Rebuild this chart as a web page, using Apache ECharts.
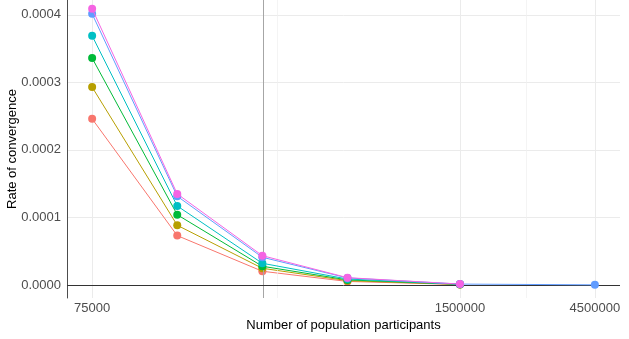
<!DOCTYPE html>
<html>
<head>
<meta charset="utf-8">
<script src="https://cdn.jsdelivr.net/npm/echarts@6/dist/echarts.min.js"></script>
<style>html,body{margin:0;padding:0;background:#fff}#c{width:629px;height:339px}</style>
</head>
<body>
<div id="c"></div>
<script>
// Population sizes (x, log scale)
const participants = [75000, 150000, 300000, 600000, 1500000, 4500000];
// Tick labels on x
const xTickValues = [75000, 1500000, 4500000];
// Tick labels on y
const yTickValues = [0, 0.0001, 0.0002, 0.0003, 0.0004];
const yMinorValues = [0.00005, 0.00015, 0.00025, 0.00035];
// Reference lines
const vlineValue = 300000;
const hlineValue = 0;

// Series values (rate of convergence)
const seriesRed     = [0.000246, 0.0000731, 0.0000203, 0.0000052, 0.0000007, null];
const seriesGold    = [0.000293, 0.0000884, 0.0000247, 0.0000064, 0.0000008, null];
const seriesGreen   = [0.000336, 0.000104,  0.0000277, 0.0000075, 0.0000010, null];
const seriesCyan    = [0.000369, 0.000117,  0.0000321, 0.0000088, 0.0000011, null];
const seriesBlue    = [0.0004015,0.0001314, 0.0000410, 0.0000104, 0.0000013, 0.0000002];
const seriesMagenta = [0.000409, 0.0001348, 0.0000434, 0.0000108, 0.0000014, null];

const colors = ['#F8766D', '#B79F00', '#00BA38', '#00BFC4', '#619CFF', '#F564E3'];
const allSeries = [seriesRed, seriesGold, seriesGreen, seriesCyan, seriesBlue, seriesMagenta];

const lg = v => Math.log10(v);
const xMinorValues = [];
for (let i = 0; i < xTickValues.length - 1; i++) {
  xMinorValues.push(Math.sqrt(xTickValues[i] * xTickValues[i + 1]));
}
const lgMin = lg(participants[0]), lgMax = lg(participants[participants.length - 1]);
const lgPad = (lgMax - lgMin) * 0.05;

const chart = echarts.init(document.getElementById('c'), null, {renderer: 'canvas'});

const gridLines = [];
yMinorValues.forEach(v => gridLines.push({yAxis: v, lineStyle: {color: '#EFEFEF', width: 0.7, type: 'solid'}}));
xMinorValues.forEach(v => gridLines.push({xAxis: lg(v), lineStyle: {color: '#EFEFEF', width: 0.7, type: 'solid'}}));

const refLines = [
  {xAxis: lg(vlineValue), lineStyle: {color: '#A6A6A6', width: 1, type: 'solid'}},
  {yAxis: hlineValue, lineStyle: {color: '#333333', width: 1, type: 'solid'}}
];

const series = [
  {type: 'line', data: [], z: 1, silent: true,
   markLine: {silent: true, symbol: ['none', 'none'], label: {show: false}, animation: false, data: gridLines}},
  {type: 'line', data: [], z: 2, silent: true,
   markLine: {silent: true, symbol: ['none', 'none'], label: {show: false}, animation: false, data: refLines}}
];
allSeries.forEach((vals, i) => {
  series.push({
    type: 'line', z: 3 + i,
    data: participants.map((p, j) => vals[j] == null ? null : [lg(p), vals[j]]).filter(d => d),
    symbol: 'circle', symbolSize: 8,
    lineStyle: {color: colors[i], width: 1},
    itemStyle: {color: colors[i]},
    connectNulls: false, animation: false
  });
});

chart.setOption({
  animation: false,
  grid: {left: 67, right: 9, top: 0, bottom: 41, containLabel: false, outerBoundsMode: 'none'},
  xAxis: {
    type: 'value', min: lgMin - lgPad, max: lgMax + lgPad,
    name: 'Number of population participants', nameLocation: 'middle', nameGap: 21,
    nameMoveOverlap: false,
    nameTextStyle: {color: '#000', fontSize: 13, fontFamily: 'Liberation Sans, Arial, sans-serif'},
    axisLine: {show: false, onZero: false},
    axisTick: {show: false, customValues: xTickValues.map(lg)},
    splitLine: {show: true, lineStyle: {color: '#EBEBEB', width: 1}},
    axisLabel: {
      customValues: xTickValues.map(lg), margin: 4,
      color: '#4D4D4D', fontSize: 13, fontFamily: 'Liberation Sans, Arial, sans-serif',
      formatter: v => String(Math.round(Math.pow(10, v)))
    }
  },
  yAxis: {
    type: 'value', min: -0.0000193, max: 0.000422,
    name: 'Rate of convergence', nameLocation: 'middle', nameGap: 48, nameRotate: 90,
    nameMoveOverlap: false,
    nameTextStyle: {color: '#000', fontSize: 13, fontFamily: 'Liberation Sans, Arial, sans-serif'},
    axisLine: {show: true, onZero: false, lineStyle: {color: '#4D4D4D', width: 1}},
    axisTick: {show: false, customValues: yTickValues},
    splitLine: {show: true, lineStyle: {color: '#EBEBEB', width: 1}},
    axisLabel: {
      customValues: yTickValues, margin: 6,
      color: '#4D4D4D', fontSize: 13, fontFamily: 'Liberation Sans, Arial, sans-serif',
      formatter: v => v.toFixed(4)
    }
  },
  series: series
});
</script>
</body>
</html>
